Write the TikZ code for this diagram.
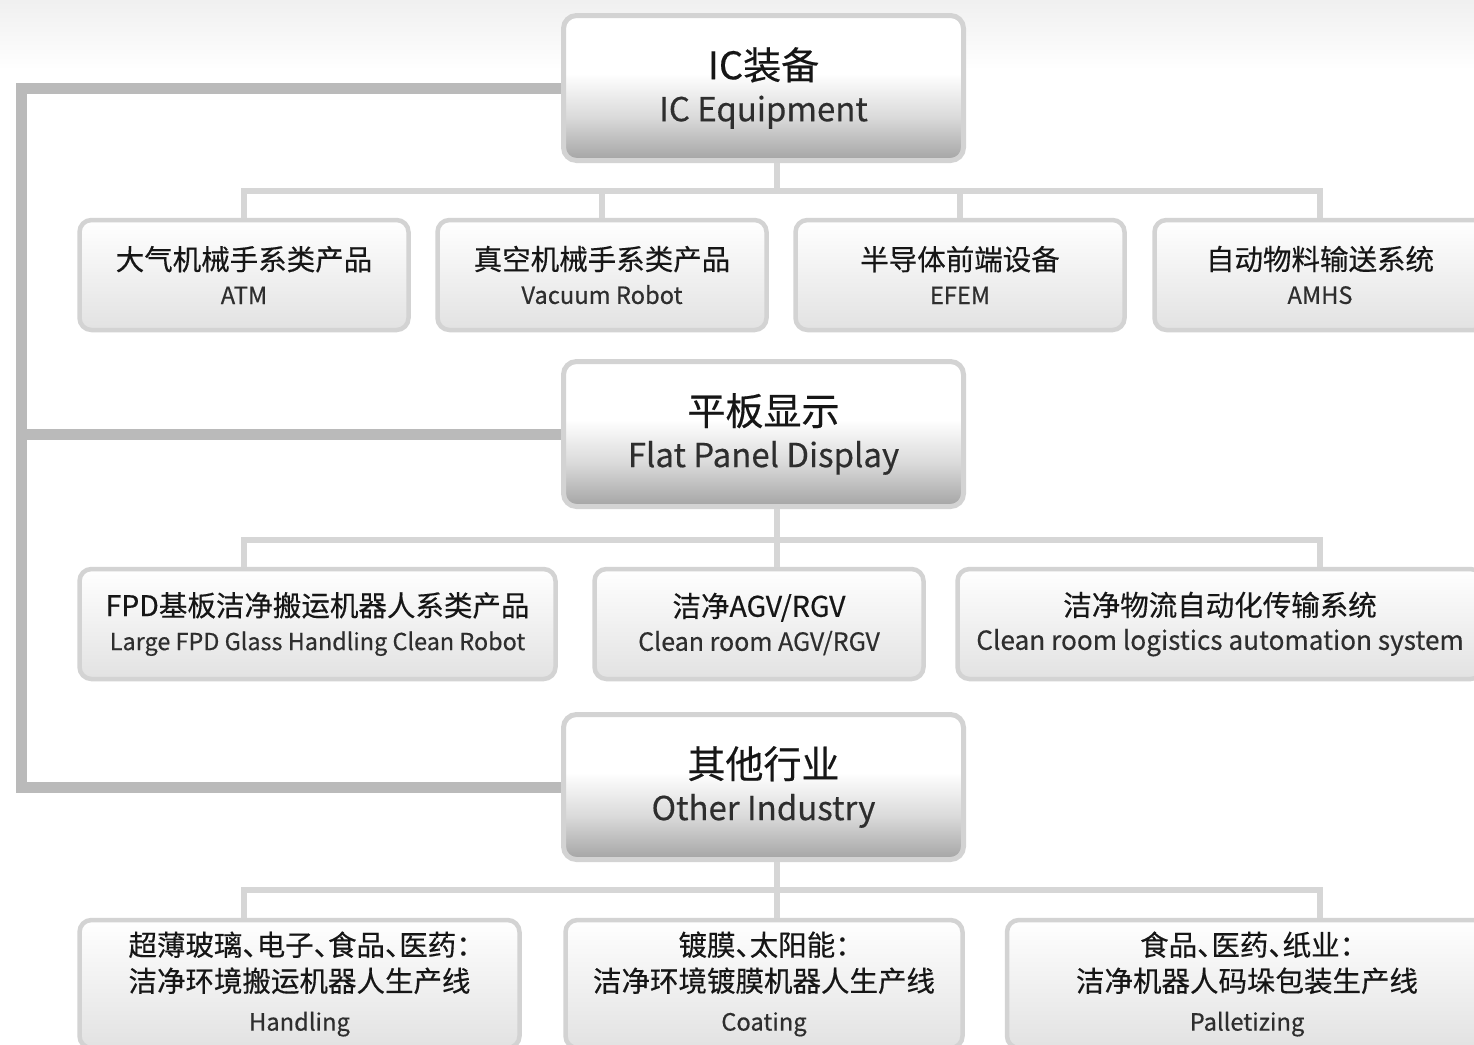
\documentclass[tikz,border=0pt]{standalone}
\usepackage{fontspec}
\setmainfont{Noto Sans CJK SC}[FakeBold=0.4]
\newfontfamily\zhhalt{Noto Sans CJK SC}[RawFeature=+halt, FakeBold=0.4]
\usetikzlibrary{positioning}

\definecolor{trunkgray}{HTML}{BABABA}
\definecolor{branchgray}{HTML}{D6D6D6}
\definecolor{boxedge}{HTML}{D3D3D3}
\definecolor{mainlow}{HTML}{A4A4A4}
\definecolor{mainmid}{HTML}{DADADA}
\definecolor{sublow}{HTML}{E2E2E2}
\definecolor{inkzh}{HTML}{161616}
\definecolor{inken}{HTML}{2E2E2E}

\pgfdeclareverticalshading{mainshade}{100bp}{color(0bp)=(mainlow); color(25bp)=(mainlow); color(40bp)=(mainmid); color(55bp)=(white); color(100bp)=(white)}

\newcommand{\zhmain}{\fontsize{38}{42}\selectfont\color{inkzh}}
\newcommand{\zhsub}{\fontsize{28.5}{34}\selectfont\color{inkzh}}

\tikzset{
  mainbox/.style={draw=boxedge, line width=5pt, rounded corners=13pt, shade, shading=mainshade,
    minimum width=400pt, minimum height=145pt, align=center, inner sep=0pt,
    text=inken, font=\fontsize{33}{42}\selectfont},
  subbox/.style={draw=boxedge, line width=4.5pt, rounded corners=12pt, top color=white, bottom color=sublow,
    minimum height=110pt, align=center, inner sep=0pt,
    text=inken, font=\fontsize{23.7}{34}\selectfont},
  trunk/.style={draw=trunkgray, line width=11pt},
  branch/.style={draw=branchgray, line width=6pt},
}

\begin{document}
\begin{tikzpicture}[x=1pt,y=-1pt]
\useasboundingbox (0,0) rectangle (1474,1044);

% faint shade along the top edge
\shade[top color=black!6, bottom color=white] (0,0) rectangle (1474,70);

% x of the left spine and of the stems
\coordinate (spine) at (21,0);
\coordinate (stem) at (777,0);

% Main boxes
\node[mainbox] (ic)  at (763.5,88)  {{\zhmain IC装备}\\IC Equipment};
\node[mainbox] (fpd) at (763.5,434) {{\zhmain 平板显示}\\Flat Panel Display};
\node[mainbox] (oth) at (763.5,787) {{\zhmain 其他行业}\\Other Industry};

% IC row
\node[subbox, minimum width=329pt] (atm)  at (244,275)  {{\zhsub 大气机械手系类产品}\\ATM};
\node[subbox, minimum width=329pt] (vac)  at (602,275)  {{\zhsub 真空机械手系类产品}\\Vacuum Robot};
\node[subbox, minimum width=329pt] (efem) at (960,275)  {{\zhsub 半导体前端设备}\\EFEM};
\node[subbox, minimum width=331pt] (amhs) at (1320,275) {{\zhsub 自动物料输送系统}\\AMHS};

% FPD row
\node[subbox, minimum width=476pt, font=\fontsize{23.4}{34}\selectfont] (lg) at (317.5,624)
  {{\zhsub FPD基板洁净搬运机器人系类产品}\\Large FPD Glass Handling Clean Robot};
\node[subbox, minimum width=329pt, font=\fontsize{25}{34}\selectfont] (agv) at (759,624)
  {{\zhsub 洁净AGV/RGV}\\Clean room AGV/RGV};
\node[subbox, minimum width=525pt, font=\fontsize{26.2}{34}\selectfont] (clog) at (1220,624)
  {{\zhsub 洁净物流自动化传输系统}\\Clean room logistics automation system};

% Other row
\node[subbox, minimum width=440pt, minimum height=128pt, font=\fontsize{23.7}{36}\selectfont] (hand) at (299.5,984)
  {{\zhsub\zhhalt 超薄玻璃、电子、食品、医药：}\\{\zhsub 洁净环境搬运机器人生产线}\\[3pt]Handling};
\node[subbox, minimum width=397pt, minimum height=128pt, font=\fontsize{23.7}{36}\selectfont] (coat) at (764,984)
  {{\zhsub\zhhalt 镀膜、太阳能：}\\{\zhsub 洁净环境镀膜机器人生产线}\\[3pt]Coating};
\node[subbox, minimum width=480pt, minimum height=128pt, font=\fontsize{23.7}{36}\selectfont] (pall) at (1247,984)
  {{\zhsub\zhhalt 食品、医药、纸业：}\\{\zhsub 洁净机器人码垛包装生产线}\\[3pt]Palletizing};

% Left spine
\draw[trunk] (ic.west) -| (spine |- oth.west) -- (oth.west);
\draw[trunk] (fpd.west) -- (spine |- fpd.west);

% IC branches
\coordinate (bus1) at (stem |- 0,191);
\draw[branch] (ic.south -| stem) -- (bus1);
\draw[branch] (atm.north) |- (bus1) -| (amhs.north);
\foreach \c in {vac,efem}
  \draw[branch] (\c.north) -- (\c.north |- bus1);

% FPD branches
\coordinate (bus2) at (stem |- 0,540);
\draw[branch] (fpd.south -| stem) -- (agv.north -| stem);
\draw[branch] (lg.north -| atm.north) |- (bus2) -| (clog.north -| amhs.north);

% Other branches
\coordinate (bus3) at (stem |- 0,890);
\draw[branch] (oth.south -| stem) -- (coat.north -| stem);
\draw[branch] (hand.north -| atm.north) |- (bus3) -| (pall.north -| amhs.north);

\end{tikzpicture}
\end{document}
